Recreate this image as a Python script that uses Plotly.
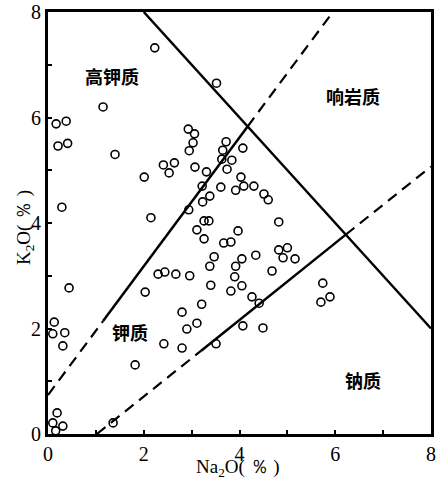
import plotly.graph_objects as go

# Sample data: Na2O (%) and K2O (%)
na2o = [2.23, 1.15, 0.17, 0.38, 0.21, 0.41, 1.40, 3.52, 0.29, 2.93,
        3.06, 3.03, 2.95, 2.41, 2.64, 2.53, 3.07, 3.31, 2.01, 3.22,
        3.23, 3.38, 2.94, 2.15, 3.72, 3.65, 4.07, 3.63, 3.84, 3.74,
        4.03, 3.61, 3.92, 4.09, 4.30, 4.51, 4.60, 3.26, 3.36, 3.11,
        3.97, 4.82, 4.82, 5.00, 4.91, 5.16, 4.34, 4.68, 4.05, 4.05,
        4.26, 4.41, 5.74, 5.89, 5.70, 4.07, 4.49, 3.26, 3.67, 3.82,
        3.47, 3.38, 3.92, 2.30, 2.44, 2.67, 2.96, 3.90, 3.40, 3.82,
        2.03, 3.21, 2.80, 3.11, 2.90, 2.42, 2.80, 3.51, 0.44, 0.13,
        0.10, 0.35, 0.31, 1.82, 0.19, 0.10, 0.31, 0.16, 1.36]
k2o = [7.32, 6.20, 5.88, 5.93, 5.46, 5.51, 5.30, 6.65, 4.30, 5.78,
       5.69, 5.52, 5.37, 5.10, 5.14, 4.95, 5.06, 4.97, 4.87, 4.70,
       4.40, 4.51, 4.25, 4.10, 5.54, 5.38, 5.42, 5.21, 5.19, 5.02,
       4.87, 4.68, 4.62, 4.70, 4.70, 4.55, 4.44, 4.04, 4.04, 3.87,
       3.85, 4.02, 3.49, 3.53, 3.34, 3.32, 3.39, 3.09, 3.32, 2.81,
       2.60, 2.48, 2.86, 2.60, 2.50, 2.05, 2.01, 3.70, 3.62, 3.64,
       3.36, 3.18, 3.18, 3.03, 3.07, 3.03, 3.00, 2.98, 2.82, 2.71,
       2.69, 2.46, 2.31, 2.10, 1.99, 1.71, 1.63, 1.71, 2.77, 2.12,
       1.90, 1.92, 1.67, 1.31, 0.40, 0.21, 0.15, 0.06, 0.21]

# Boundary lines (Na2O, K2O)
ultra_x = [2.0, 8.0]            # Na2O + K2O = 10
ultra_y = [8.0, 2.0]
upper_dash1_x = [0.0, 1.15]
upper_dash1_y = [0.74, 2.14]
upper_solid_x = [1.15, 4.17]
upper_solid_y = [2.14, 5.83]
upper_dash2_x = [4.17, 5.95]
upper_dash2_y = [5.83, 8.0]
lower_dash1_x = [1.02, 3.2]
lower_dash1_y = [0.0, 1.58]
lower_solid_x = [3.2, 6.22]
lower_solid_y = [1.58, 3.78]
lower_dash2_x = [6.22, 8.0]
lower_dash2_y = [3.78, 5.07]

# Field labels
field_names = ["高钾质", "响岩质", "钾质", "钠质"]
field_x = [1.34, 6.37, 1.71, 6.58]
field_y = [6.79, 6.41, 1.93, 1.02]

x_ticks = [0, 2, 4, 6, 8]
y_ticks = [0, 2, 4, 6, 8]

x_title = "Na<sub>2</sub>O( ％ )"
y_title = "K<sub>2</sub>O( ％ )"

fig = go.Figure()

solid = dict(color="black", width=2.5)
dashed = dict(color="black", width=2.2, dash="11px,7px")

for xs, ys, st in [
    (ultra_x, ultra_y, solid),
    (upper_dash1_x, upper_dash1_y, dashed),
    (upper_solid_x, upper_solid_y, solid),
    (upper_dash2_x, upper_dash2_y, dashed),
    (lower_dash1_x, lower_dash1_y, dashed),
    (lower_solid_x, lower_solid_y, solid),
    (lower_dash2_x, lower_dash2_y, dashed),
]:
    fig.add_trace(go.Scatter(x=xs, y=ys, mode="lines", line=st,
                             hoverinfo="skip", showlegend=False))

fig.add_trace(go.Scatter(
    x=na2o, y=k2o, mode="markers",
    marker=dict(symbol="circle-open", size=8, color="black",
                line=dict(width=1.6, color="black")),
    showlegend=False, cliponaxis=False))

for name, fx, fy in zip(field_names, field_x, field_y):
    fig.add_annotation(x=fx, y=fy, text="<b>" + name + "</b>", showarrow=False,
                       font=dict(family="Noto Sans CJK SC", size=18, color="black"))

title_font = dict(family="Liberation Serif", size=19, color="black")
fig.add_annotation(xref="paper", yref="paper", x=0.496, y=-0.08,
                   text=x_title, showarrow=False, font=title_font,
                   xanchor="center", yanchor="middle")
fig.add_annotation(xref="paper", yref="paper", x=-0.06, y=0.488,
                   text=y_title, showarrow=False, font=title_font, textangle=-90,
                   xanchor="center", yanchor="middle")

axis_common = dict(range=[0, 8], showline=True, linewidth=3, linecolor="black",
                   mirror=True, ticks="inside", ticklen=4, tickwidth=1.5,
                   tickcolor="black", showgrid=False, zeroline=False,
                   automargin=False, ticklabeloverflow="allow",
                   tickfont=dict(family="Liberation Serif", size=20, color="black"),
                   minor=dict(dtick=1, ticks="inside", ticklen=4, tickwidth=1.5,
                              tickcolor="black"))

fig.update_xaxes(**axis_common, tickvals=x_ticks)
fig.update_yaxes(**axis_common, tickvals=y_ticks)

fig.update_layout(width=438, height=488,
                  margin=dict(l=48, r=7, t=12, b=54),
                  plot_bgcolor="white", paper_bgcolor="white")

# Remove the default page body margin so the figure sits at the window origin.
fig.write_html("out.html", config={"displayModeBar": False},
               post_script="document.body.style.margin='0';")
